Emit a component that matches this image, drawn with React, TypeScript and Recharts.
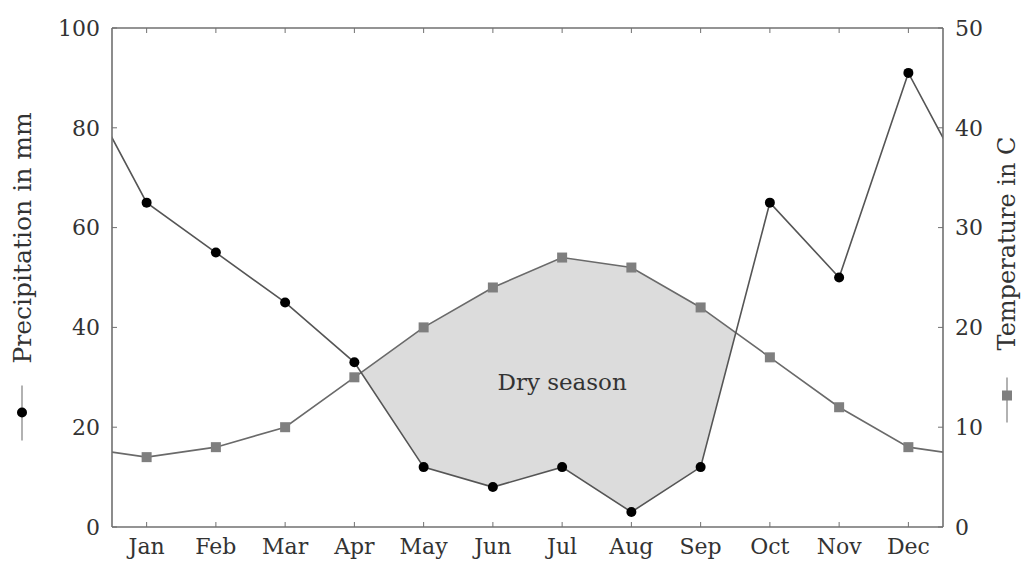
import { ComposedChart, Line, Area, XAxis, YAxis, ReferenceDot } from 'recharts'

const SERIF = '"DejaVu Serif", "Liberation Serif", serif'

const months = ['Jan', 'Feb', 'Mar', 'Apr', 'May', 'Jun', 'Jul', 'Aug', 'Sep', 'Oct', 'Nov', 'Dec']
const precipitation = [65, 55, 45, 33, 12, 8, 12, 3, 12, 65, 50, 91]
const temperature = [7, 8, 10, 15, 20, 24, 27, 26, 22, 17, 12, 8]
const monthTicks = [1, 2, 3, 4, 5, 6, 7, 8, 9, 10, 11, 12]
const precipTicks = [0, 20, 40, 60, 80, 100]
const tempTicks = [0, 10, 20, 30, 40, 50]

// 100 mm on the left axis matches 50 C on the right one
const RATIO = 100 / 50

function buildRows() {
  const n = months.length
  const rows: any[] = []
  // neighbours wrap round so the lines run out to the frame (clipped there)
  rows.push({ x: 0, precip: precipitation[n - 1], temp: temperature[n - 1] })
  rows.push({ x: n + 1, precip: precipitation[0], temp: temperature[0] })
  const isDry = (i: number) => precipitation[i] < temperature[i] * RATIO
  for (let i = 0; i < n; i++) {
    rows.push({
      x: i + 1,
      precip: precipitation[i],
      temp: temperature[i],
      dry: isDry(i) ? [precipitation[i], temperature[i] * RATIO] : undefined,
    })
    if (i < n - 1 && isDry(i) !== isDry(i + 1)) {
      const d0 = precipitation[i] - temperature[i] * RATIO
      const d1 = precipitation[i + 1] - temperature[i + 1] * RATIO
      const t = d0 / (d0 - d1)
      const v = precipitation[i] + (precipitation[i + 1] - precipitation[i]) * t
      rows.push({ x: i + 1 + t, dry: [v, v] })
    }
  }
  return rows.sort((a, b) => a.x - b.x)
}

const data = buildRows()

const tickStyle = { fill: '#333', fontSize: 22, fontFamily: SERIF }
const frame = { stroke: '#707070', strokeWidth: 1.6 }

function RoundDot({ cx, cy, index }: any) {
  if (cx == null || cy == null) return <g key={'p' + index} />
  return <circle key={'p' + index} cx={cx} cy={cy} r={5} fill="#000" />
}

function SquareDot({ cx, cy, index }: any) {
  if (cx == null || cy == null) return <g key={'t' + index} />
  return <rect key={'t' + index} x={cx - 5} y={cy - 5} width={10} height={10} fill="#7f7f7f" />
}

function AxisTitle({ viewBox, side }: any) {
  const cy = viewBox.y + viewBox.height / 2
  const cx = side === 'left' ? viewBox.x + 22 : viewBox.x + viewBox.width - 15
  const text = side === 'left' ? 'Precipitation in mm' : 'Temperature in C'
  const sym = side === 'left' ? { a: -163, b: -108, m: -135, t: -86 } : { a: -145, b: -100, m: -118, t: -73 }
  return (
    <g transform={`translate(${cx},${cy}) rotate(-90)`}>
      <line x1={sym.a} y1={0} x2={sym.b} y2={0} stroke="#999" strokeWidth={1.5} />
      {side === 'left'
        ? <circle cx={sym.m} cy={0} r={5} fill="#000" />
        : <rect x={sym.m - 5} y={-5} width={10} height={10} fill="#7f7f7f" />}
      <text x={sym.t} y={0} dominantBaseline="central" textAnchor="start"
        fontFamily={SERIF} fontSize={side === 'left' ? 25 : 24} fill="#333">{text}</text>
    </g>
  )
}

export default function App() {
  return (
    <div style={{ position: 'absolute', left: 0, top: 0, background: '#fff' }}>
      <ComposedChart width={1022} height={562} data={data} margin={{ top: 0, right: 0, bottom: 0, left: 0 }}>
        <XAxis dataKey="x" type="number" domain={[0.5, 12.5]} allowDataOverflow ticks={monthTicks} interval={0}
          tickFormatter={(v: number) => months[v - 1]} height={35} tickSize={-5} tickMargin={16}
          tick={tickStyle} axisLine={frame} tickLine={{ stroke: '#707070' }} />
        <XAxis xAxisId="top" orientation="top" dataKey="x" type="number" domain={[0.5, 12.5]} allowDataOverflow
          ticks={monthTicks} interval={0} tickFormatter={() => ''} height={28} tickSize={-5}
          axisLine={frame} tickLine={{ stroke: '#707070' }} />
        <YAxis yAxisId="left" domain={[0, 100]} ticks={precipTicks} width={112} tickSize={-5} tickMargin={17}
          tick={tickStyle} axisLine={frame} tickLine={{ stroke: '#707070' }}
          label={{ content: (p: any) => <AxisTitle {...p} side="left" /> }} />
        <YAxis yAxisId="right" orientation="right" domain={[0, 50]} ticks={tempTicks} width={79} tickSize={-5}
          tickMargin={17} tick={tickStyle} axisLine={frame} tickLine={{ stroke: '#707070' }}
          label={{ content: (p: any) => <AxisTitle {...p} side="right" /> }} />
        <Area yAxisId="left" type="linear" dataKey="dry" fill="#dcdcdc" fillOpacity={1} stroke="none"
          isAnimationActive={false} />
        <Line yAxisId="right" type="linear" dataKey="temp" stroke="#6a6a6a" strokeWidth={1.6} connectNulls
          dot={SquareDot} activeDot={false} isAnimationActive={false} />
        <Line yAxisId="left" type="linear" dataKey="precip" stroke="#555" strokeWidth={1.6} connectNulls
          dot={RoundDot} activeDot={false} isAnimationActive={false} />
        <ReferenceDot yAxisId="left" x={7} y={29} r={0} fill="none" stroke="none"
          label={{ value: 'Dry season', position: 'center', fill: '#333', fontSize: 23, fontFamily: SERIF }} />
      </ComposedChart>
    </div>
  )
}
